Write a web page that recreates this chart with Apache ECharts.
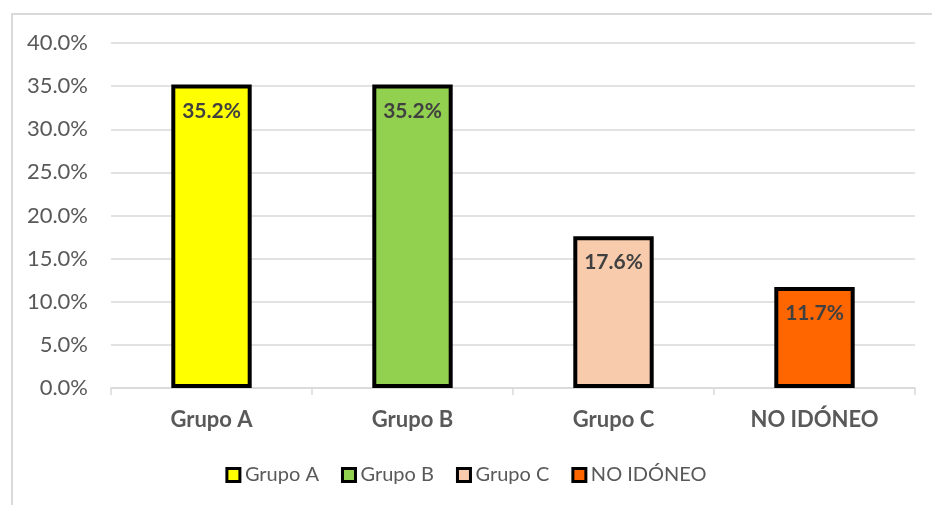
<!DOCTYPE html>
<html>
<head>
<meta charset="utf-8">
<script src="https://cdn.jsdelivr.net/npm/echarts@6/dist/echarts.min.js"></script>
<style>
  html, body { margin: 0; padding: 0; background: #fff; }
  #chart { width: 932px; height: 505px; }
</style>
</head>
<body>
<div id="chart"></div>
<script>
const categories = ['Grupo A', 'Grupo B', 'Grupo C', 'NO IDÓNEO']
const values = [35.2, 35.2, 17.6, 11.7]
const colors = ['#ffff00', '#92d050', '#f8cbad', '#ff6600']
const yTicks = { min: 0, max: 40, interval: 5 }

const font = 'Lato, "Open Sans", sans-serif'

const chart = echarts.init(document.getElementById('chart'))

// one series per category so the legend gets four entries
const series = categories.map((name, i) => ({
  name,
  type: 'bar',
  stack: 'all',
  barWidth: '40%',
  data: categories.map((_, j) => (j === i ? values[i] : '-')),
  itemStyle: { color: colors[i], borderColor: '#000', borderWidth: 4 },
  label: {
    show: true,
    position: 'insideTop',
    distance: 16,
    formatter: p => p.value.toFixed(1) + '%',
    color: '#404040',
    fontFamily: font,
    fontWeight: 'bold',
    fontSize: 21,
  },
}))

chart.setOption({
  animation: false,
  graphic: [{
    type: 'rect',
    shape: { x: 12, y: 14, width: 1000, height: 600 },
    style: { fill: 'none', stroke: '#d9d9d9', lineWidth: 2 },
    silent: true,
  }],
  grid: { left: 111, right: 17, top: 43, bottom: 117 },
  legend: {
    data: categories,
    left: 'center',
    top: 460,
    itemWidth: 13,
    itemHeight: 13,
    itemGap: 22,
    icon: 'rect',
    itemStyle: { borderColor: '#000', borderWidth: 3 },
    textStyle: { color: '#595959', fontFamily: font, fontSize: 20 },
  },
  xAxis: {
    type: 'category',
    data: categories,
    axisLine: { lineStyle: { color: '#d9d9d9', width: 1.5 } },
    axisTick: { show: true, length: 7, lineStyle: { color: '#d9d9d9', width: 1.5 } },
    axisLabel: {
      color: '#595959',
      fontFamily: font,
      fontWeight: 'bold',
      fontSize: 22,
      margin: 21,
    },
  },
  yAxis: {
    type: 'value',
    min: yTicks.min,
    max: yTicks.max,
    interval: yTicks.interval,
    axisLine: { show: false },
    axisTick: { show: false },
    axisLabel: {
      color: '#595959',
      fontFamily: font,
      fontSize: 22,
      margin: 23,
      formatter: v => v.toFixed(1) + '%',
    },
    splitLine: { lineStyle: { color: '#d9d9d9', width: 1.5 } },
  },
  series,
})
</script>
</body>
</html>
